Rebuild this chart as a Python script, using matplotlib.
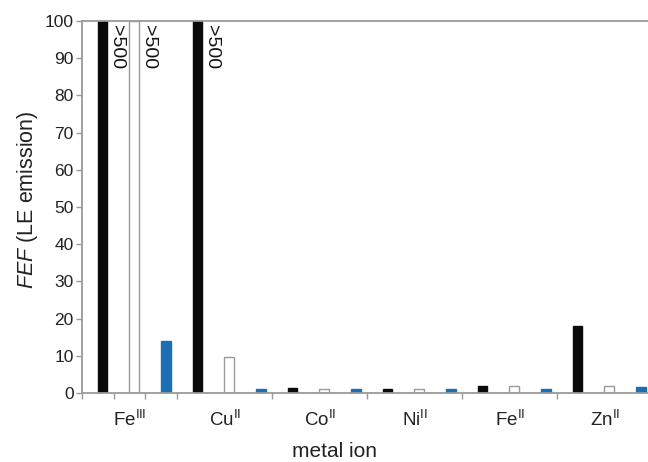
import matplotlib
matplotlib.use("Agg")
import matplotlib.pyplot as plt
import numpy as np

plt.rcParams['font.family'] = ['Liberation Sans', 'DejaVu Sans']
plt.rcParams['mathtext.fontset'] = 'custom'
plt.rcParams['mathtext.rm'] = 'Liberation Sans'
plt.rcParams['mathtext.it'] = 'Liberation Sans:italic'

# FEF values per metal ion; values above 100 are off-scale (>500)
metals = [r'Fe$^{\mathrm{III}}$', r'Cu$^{\mathrm{II}}$', r'Co$^{\mathrm{II}}$',
          r'Ni$^{\mathrm{II}}$', r'Fe$^{\mathrm{II}}$', r'Zn$^{\mathrm{II}}$']
series_black = [500, 500, 1.4, 1.0, 2.0, 18.0]
series_white = [500, 9.8, 1.1, 1.1, 1.8, 1.8]
series_blue = [14.1, 1.0, 1.0, 1.0, 1.0, 1.5]
offscale_label = '>500'
y_ticks = [0, 10, 20, 30, 40, 50, 60, 70, 80, 90, 100]

gray = '#9a9a9a'
fig = plt.figure(figsize=(6.48, 4.62), dpi=100)
ax = fig.add_axes([82/648, 69/462, 570/648, 372/462])

x0 = np.arange(len(metals))
offsets = [0.216, 0.549, 0.882]
w = 0.103
styles = [dict(color='#0a0a0a', edgecolor='#0a0a0a'),
          dict(color='white', edgecolor=gray),
          dict(color='#1b6fb5', edgecolor='#1b6fb5')]
for vals, off, st in zip([series_black, series_white, series_blue], offsets, styles):
    xs = x0 + off
    ax.bar(xs, np.minimum(vals, 100), width=w, linewidth=1.0, **st, zorder=2)
    for x, v in zip(xs, vals):
        if v > 100:
            ax.text(x + w/2 + 0.005, 98.8, offscale_label, rotation=-90,
                    ha='left', va='top', fontsize=14, color='#111111')

ax.set_xlim(0, 6)
ax.set_ylim(0, 100)
ax.set_yticks(y_ticks)
ax.set_xticks(x0 + 0.5)
ax.set_xticklabels(metals, fontsize=13.5)
ax.set_xticks([0, 1/3, 2/3, 1, 2, 3, 4, 5], minor=True)
ax.tick_params(axis='x', which='major', length=0, pad=12, colors='#222222')
ax.tick_params(axis='x', which='minor', length=4, width=1, color=gray, direction='out')
ax.tick_params(axis='y', length=4, width=1, color=gray, pad=2, labelsize=12.5,
               labelcolor='#222222')
for s in ['left', 'bottom', 'top']:
    ax.spines[s].set_color(gray)
    ax.spines[s].set_linewidth(1.3)
ax.spines['right'].set_visible(False)

fig.text(334/648, 1 - 461/462, 'metal ion', ha='center', va='bottom',
         fontsize=15, color='#222222')
fig.text(28/648, 1 - 200/462, r'$\mathit{FEF}$ (LE emission)', rotation=90,
         ha='center', va='center', fontsize=15.5, color='#222222')

fig.savefig('out.png', dpi=100)
